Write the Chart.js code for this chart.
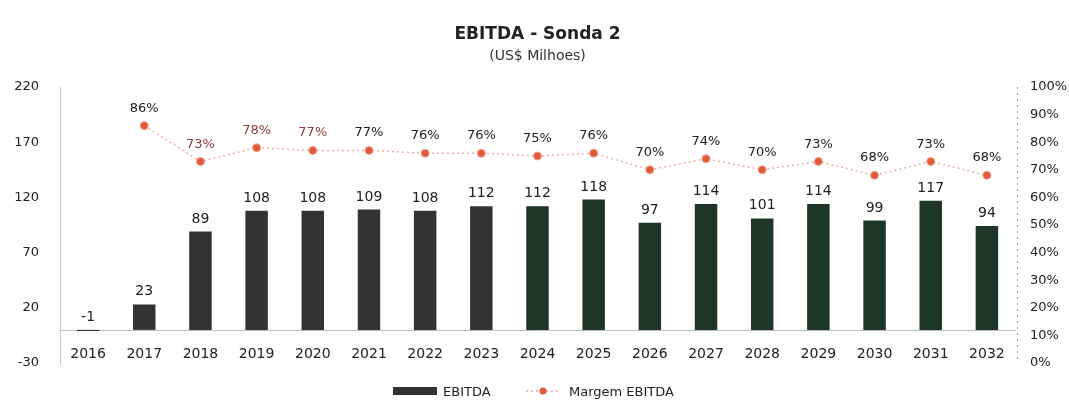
<!DOCTYPE html>
<html>
<head>
<meta charset="utf-8">
<script src="https://cdn.jsdelivr.net/npm/chart.js@4.4.1/dist/chart.umd.min.js"></script>
<style>
  html, body { margin: 0; padding: 0; background: #fff; }
  #wrap { width: 1069px; height: 403px; position: relative; }
</style>
</head>
<body>
<div id="wrap"><canvas id="ebitdaChart"></canvas></div>
<script>
// Dados do gráfico
const anos = ['2016', '2017', '2018', '2019', '2020', '2021', '2022', '2023', '2024',
              '2025', '2026', '2027', '2028', '2029', '2030', '2031', '2032'];
const ebitda = [-1, 23, 89, 108, 108, 109, 108, 112, 112, 118, 97, 114, 101, 114, 99, 117, 94];
const margem = [null, 86, 73, 78, 77, 77, 76, 76, 75, 76, 70, 74, 70, 73, 68, 73, 68];
const ticksEsquerda = [-30, 20, 70, 120, 170, 220];
const ticksDireita = [0, 10, 20, 30, 40, 50, 60, 70, 80, 90, 100];

// Cores das barras (cinza escuro nos primeiros anos, verde escuro depois)
const corCinza = '#333333';
const corVerde = '#1e3627';
const coresBarras = anos.map((a, i) => i < 8 ? corCinza : corVerde);

const FONT = '"DejaVu Sans", Verdana, sans-serif';

// Plugin para títulos, rótulos de dados, anos e legenda
const desenhosExtras = {
    id: 'desenhosExtras',
    beforeDatasetsDraw(chart) {
        const ctx = chart.ctx;
        const area = chart.chartArea;
        const y = chart.scales.y;
        ctx.save();
        // linha do zero
        ctx.strokeStyle = '#bdbdbd';
        ctx.lineWidth = 1;
        ctx.beginPath();
        ctx.moveTo(area.left, Math.round(y.getPixelForValue(0)) + 0.5);
        ctx.lineTo(area.right, Math.round(y.getPixelForValue(0)) + 0.5);
        ctx.stroke();
        // eixo direito pontilhado
        ctx.setLineDash([2, 4]);
        ctx.strokeStyle = '#9a9a9a';
        ctx.beginPath();
        ctx.moveTo(area.right + 2.5, area.top);
        ctx.lineTo(area.right + 2.5, area.bottom);
        ctx.stroke();
        ctx.restore();
    },
    afterDraw(chart) {
        const ctx = chart.ctx;
        const x = chart.scales.x;
        const y = chart.scales.y;
        ctx.save();
        ctx.textAlign = 'center';
        ctx.textBaseline = 'alphabetic';

        // Títulos
        ctx.fillStyle = '#222';
        ctx.font = 'bold 17px ' + FONT;
        ctx.fillText('EBITDA - Sonda 2', chart.width / 2 + 3, 39);
        ctx.font = '14px ' + FONT;
        ctx.fillStyle = '#333';
        ctx.fillText('(US$ Milhoes)', chart.width / 2 + 3, 60);

        // Rótulos das barras
        ctx.font = '14px ' + FONT;
        ctx.fillStyle = '#222';
        const barras = chart.getDatasetMeta(0).data;
        barras.forEach((el, i) => {
            const topo = Math.min(el.y, el.base);
            ctx.fillText(String(ebitda[i]), el.x, topo - 9);
        });

        // Rótulos da margem
        ctx.font = '13px ' + FONT;
        const pontos = chart.getDatasetMeta(1).data;
        pontos.forEach((el, i) => {
            if (margem[i] === null) return;
            ctx.fillStyle = (i >= 2 && i <= 4) ? '#8a3b3b' : '#222';
            ctx.fillText(margem[i] + '%', el.x, el.y - 14);
        });

        // Anos
        ctx.font = '14px ' + FONT;
        ctx.fillStyle = '#222';
        const yAnos = y.getPixelForValue(-17) + 9;
        anos.forEach((a, i) => {
            ctx.fillText(a, x.getPixelForValue(i), yAnos);
        });

        // Legenda
        const yLeg = 391;
        ctx.fillStyle = corCinza;
        ctx.fillRect(393, yLeg - 4, 44, 8);
        ctx.font = '13px ' + FONT;
        ctx.textAlign = 'left';
        ctx.fillStyle = '#222';
        ctx.fillText('EBITDA', 443, yLeg + 5);
        ctx.strokeStyle = '#e9a6a6';
        ctx.setLineDash([2, 3]);
        ctx.lineWidth = 1.5;
        ctx.beginPath();
        ctx.moveTo(526, yLeg);
        ctx.lineTo(560, yLeg);
        ctx.stroke();
        ctx.setLineDash([]);
        ctx.fillStyle = '#e05a3c';
        ctx.beginPath();
        ctx.arc(543, yLeg, 3.5, 0, Math.PI * 2);
        ctx.fill();
        ctx.fillStyle = '#222';
        ctx.fillText('Margem EBITDA', 569, yLeg + 5);
        ctx.restore();
    }
};

const ctx = document.getElementById('ebitdaChart');
new Chart(ctx, {
    data: {
        labels: anos,
        datasets: [
            {
                type: 'bar',
                label: 'EBITDA',
                data: ebitda,
                backgroundColor: coresBarras,
                borderWidth: 0,
                barPercentage: 0.4,
                categoryPercentage: 1,
                yAxisID: 'y',
                order: 2
            },
            {
                type: 'line',
                label: 'Margem EBITDA',
                data: margem,
                yAxisID: 'y1',
                borderColor: '#eab0ac',
                borderWidth: 1.5,
                borderDash: [2, 3],
                pointBackgroundColor: '#e05a3c',
                pointBorderColor: '#f0a58f',
                pointBorderWidth: 1,
                pointRadius: 4,
                tension: 0,
                spanGaps: false,
                order: 1
            }
        ]
    },
    options: {
        responsive: true,
        maintainAspectRatio: false,
        animation: false,
        layout: { padding: { top: 87, bottom: 40, left: 0, right: 0 } },
        plugins: {
            legend: { display: false },
            tooltip: { enabled: false },
            title: { display: false }
        },
        scales: {
            x: {
                display: true,
                offset: true,
                grid: { display: false, drawTicks: false },
                border: { display: false },
                ticks: { display: false }
            },
            y: {
                position: 'left',
                min: -30,
                max: 220,
                afterBuildTicks: (axis) => { axis.ticks = ticksEsquerda.map(v => ({ value: v })); },
                afterFit: (axis) => { axis.width = 60; },
                grid: { display: false },
                border: { display: true, color: '#c8c8c8', width: 1 },
                ticks: {
                    color: '#222',
                    font: { family: FONT, size: 13 },
                    padding: 13
                }
            },
            y1: {
                position: 'right',
                min: 0,
                max: 100,
                afterBuildTicks: (axis) => { axis.ticks = ticksDireita.map(v => ({ value: v })); },
                afterFit: (axis) => { axis.width = 54; },
                grid: { display: false, drawOnChartArea: false },
                border: { display: false },
                ticks: {
                    color: '#222',
                    font: { family: FONT, size: 13 },
                    padding: 7,
                    callback: (v) => v + '%'
                }
            }
        }
    },
    plugins: [desenhosExtras]
});
</script>
</body>
</html>
